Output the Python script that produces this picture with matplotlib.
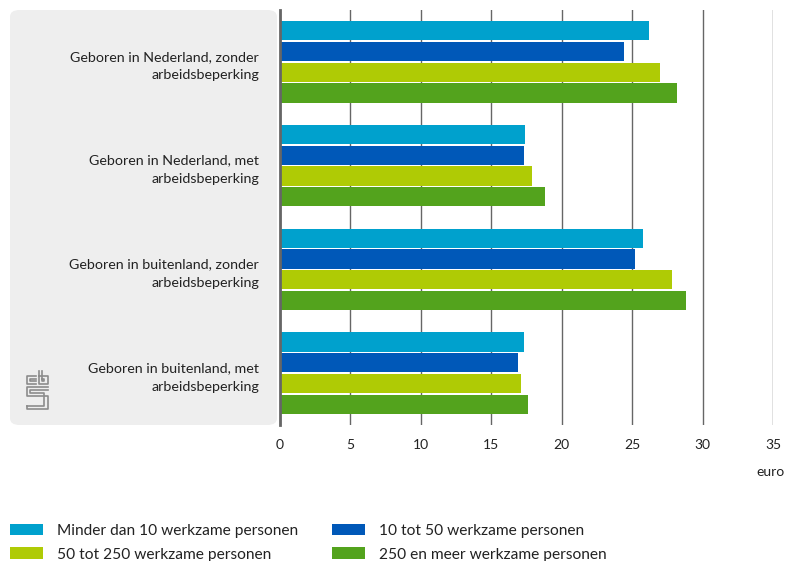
import matplotlib.pyplot as plt
from matplotlib.patches import FancyBboxPatch
import numpy as np

plt.rcParams['font.family'] = ['Lato', 'DejaVu Sans']

categories = [
    "Geboren in Nederland, zonder\narbeidsbeperking",
    "Geboren in Nederland, met\narbeidsbeperking",
    "Geboren in buitenland, zonder\narbeidsbeperking",
    "Geboren in buitenland, met\narbeidsbeperking",
]
series_names = [
    "Minder dan 10 werkzame personen",
    "10 tot 50 werkzame personen",
    "50 tot 250 werkzame personen",
    "250 en meer werkzame personen",
]
minder_10 = [26.2, 17.4, 25.8, 17.3]
tot_50 = [24.4, 17.3, 25.2, 16.9]
tot_250 = [27.0, 17.9, 27.8, 17.1]
meer_250 = [28.2, 18.8, 28.8, 17.6]
xticks = [0, 5, 10, 15, 20, 25, 30, 35]

colors = ['#00a1cd', '#0058b8', '#afcb05', '#53a31d']
series = [minder_10, tot_50, tot_250, meer_250]

W, H = 800, 561
fig = plt.figure(figsize=(W / 100, H / 100), dpi=100)

# grey label panel behind the category names
panel = FancyBboxPatch((10 / W, 1 - 425 / H), (277 - 10) / W, (425 - 10) / H,
                       boxstyle="round,pad=0,rounding_size=0.012",
                       transform=fig.transFigure, facecolor='#eeeeee',
                       edgecolor='none', zorder=-1)
fig.patches.append(panel)

ax = fig.add_axes([280 / W, 1 - 425 / H, (773 - 280) / W, 415 / H])
ax.set_facecolor('none')

bar_h = 0.2
y = np.arange(len(categories))
for i, (vals, c) in enumerate(zip(series, colors)):
    ax.barh(y - 0.3 + i * bar_h, vals, height=bar_h * 0.93, color=c,
            label=series_names[i], zorder=3)

ax.set_ylim(len(categories) - 0.5, -0.5)
ax.set_xlim(0, 35)
ax.set_xticks(xticks)
ax.set_xticklabels([str(t) for t in xticks], fontsize=10, color='#222222')
ax.tick_params(axis='x', length=0, pad=10)
ax.set_yticks(y)
ax.set_yticklabels(categories, fontsize=10.3, color='#222222', ha='right')
ax.tick_params(axis='y', length=0, pad=15)
for lab in ax.get_yticklabels():
    lab.set_multialignment('right')
    lab.set_linespacing(1.65)

ax.grid(axis='x', color='#666666', linewidth=1, zorder=1)
for s in ['top', 'right', 'bottom']:
    ax.spines[s].set_visible(False)
ax.spines['left'].set_color('#666666')
ax.spines['left'].set_linewidth(2)
ax.spines['left'].set_zorder(4)

fig.text(785 / W, 1 - 472 / H, "euro", ha='right', va='center',
         fontsize=10, color='#222222')

# small cbs logo in the panel
logo = fig.add_axes([22 / W, 1 - 410 / H, 30 / W, 40 / H])
logo.set_xlim(0, 10)
logo.set_ylim(0, 14)
logo.axis('off')
lc = '#8c8c8c'
lw = 1.2
# "c"
logo.plot([4.5, 1.5, 1.5, 4.5], [12, 12, 9.2, 9.2], color=lc, lw=lw)
logo.plot([4.5, 2.7, 2.7, 4.5], [11, 11, 10.2, 10.2], color=lc, lw=lw)
# "b"
logo.plot([5.5, 5.5, 8.5, 8.5, 5.5], [13.5, 9.2, 9.2, 12, 12], color=lc, lw=lw)
logo.plot([6.7, 6.7, 7.4, 7.4, 6.7], [13.5, 10.2, 10.2, 11, 11], color=lc, lw=lw)
# "s"
logo.plot([8.5, 1.5, 1.5, 8.5, 8.5, 1.5, 1.5], [8, 8, 4.8, 4.8, 0.5, 0.5, 1.5], color=lc, lw=lw)
logo.plot([8.5, 2.7, 2.7, 7.3, 7.3, 1.5], [7, 7, 5.8, 5.8, 1.5, 1.5], color=lc, lw=lw)

handles, labels = ax.get_legend_handles_labels()
order = [0, 2, 1, 3]
fig.legend([handles[i] for i in order], [labels[i] for i in order],
           loc='lower left', bbox_to_anchor=(-4 / W, -0.026), ncol=2, frameon=False,
           fontsize=11.2, handlelength=2.1, handleheight=0.8,
           columnspacing=2.2, handletextpad=0.9, labelspacing=0.6,
           labelcolor='#222222')

fig.savefig('out.png', dpi=100)
